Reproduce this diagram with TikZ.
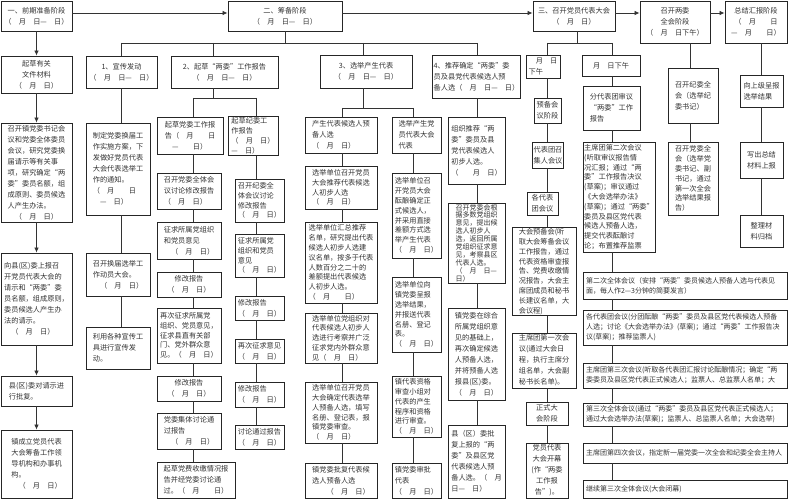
\documentclass[tikz,border=0pt]{standalone}
\usepackage{fontspec}
\setmainfont{Noto Sans CJK SC}
\usetikzlibrary{arrows.meta,calc}
\tikzset{
  box/.style={draw=black!85,line width=0.9pt,inner sep=1pt,align=left,
    font=\fontsize{7.2}{11}\selectfont,text=black!80},
  cbox/.style={box,align=center},
  mid/.style={font=\fontsize{7.2}{9.8}\selectfont},
  dense/.style={font=\fontsize{7}{7.9}\selectfont},
  wide/.style={text width=198pt,font=\fontsize{7}{10}\selectfont},
  conn/.style={draw=black!80,line width=0.8pt},
  arr/.style={conn,-{Latex[length=5pt,width=4.5pt]}},
}
\newcommand\mybox[7][]{\node[box,minimum width={(#5-#3)*1pt},minimum height={(#6-#4)*1pt},#1] (#2) at ({(#3+#5)/2},{(#4+#6)/2}) {#7};}
\newcommand\yd{（\quad 月\quad 日）}
\begin{document}
\begin{tikzpicture}[x=1pt,y=-1pt]
\useasboundingbox (0,0) rectangle (790,500);
\fill[white] (0,0) rectangle (790,500);
% top row
\mybox[cbox]{A}{1}{1}{72}{31}{一、前期准备阶段\\（\quad 月\quad 日—\quad 日）}
\mybox[cbox]{B}{228}{1}{342}{31}{二、筹备阶段\\（\quad 月\quad 日—\quad 日）}
\mybox[cbox]{C}{533}{1}{615}{31}{三、召开党员代表大会\\（\quad 月\quad 日）}
\mybox[cbox]{D}{640}{1}{710}{43}{召开两委\\全会阶段\\（\quad 月\quad 日下午）}
\mybox[cbox]{E}{725}{1}{787}{43}{总结汇报阶段\\（\quad 月\quad\quad 日\\—\quad 月\quad\quad 日）}
% column 1
\mybox[cbox]{a1}{1}{56}{72}{93}{起草有关\\文件材料\\\yd}
\mybox{a2}{1}{123}{72}{222}{召开镇党委书记会\\议和党委全体委员\\会议，研究党委换\\届请示等有关事\\项，研究确定“两\\委”委员名额，组\\成原则、委员候选\\人产生办法。\\\quad\yd}
\mybox{a3}{1}{253}{72}{345}{向县(区)委上报召\\开党员代表大会的\\请示和“两委”委\\员名额，组成原则，\\委员候选人产生办\\法的请示。\\\quad\yd}
\mybox{a4}{1}{376}{72}{406}{县(区)委对请示进\\行批复。}
\mybox{a5}{1}{430}{72}{498}{镇成立党员代表\\大会筹备工作领\\导机构和办事机\\构。\\\quad\yd}
% phase 2 heads
\mybox[cbox]{p1}{86}{56}{157}{88}{1、宣传发动\\（\quad 月\quad 日—\quad 日）}
\mybox[cbox]{p2}{171}{56}{278}{88}{2、起草“两委”工作报告\\（\quad 月\quad 日—\quad 日）}
\mybox[cbox]{p3}{320}{55}{412}{88}{3、选举产生代表\\（\quad 月\quad 日—\quad 日）}
\mybox{p4}{434}{55}{519}{98}{4、推荐确定“两委”委\\员及县党代表候选人预\\备人选（\quad 月\quad 日—\quad 日）}
% column p1
\mybox{b1}{86}{123}{150}{215}{制定党委换届工\\作实施方案，下\\发做好党员代表\\大会代表选举工\\作的通知。\\（\quad 月\quad\quad 日\\\quad —\quad 日）}
\mybox{b2}{86}{253}{150}{296}{召开换届选举工\\作动员大会。\\\quad\yd}
\mybox{b3}{86}{327}{150}{369}{利用各种宣传工\\具进行宣传发\\动。}
% column p2 left
\mybox{c0}{157}{117}{223}{154}{起草党委工作报\\告（\quad 月\quad\quad 日\\\quad —\quad\quad 日）}
\mybox{c1}{157}{173}{221}{209}{召开党委全体会\\议讨论修改报告\\\yd}
\mybox{c2}{157}{222}{221}{259}{征求所属党组织\\和党员意见\\\quad\yd}
\mybox[cbox]{c3}{157}{272}{221}{297}{修改报告\\\yd}
\mybox[mid]{c4}{157}{308}{221}{363}{再次征求所属党\\组织、党员意见，\\征求县直有关部\\门、党外群众意\\见。（\quad 月\quad 日）}
\mybox[cbox]{c5}{157}{376}{221}{401}{修改报告\\\yd}
\mybox{c6}{157}{413}{221}{449}{党委集体讨论通\\过报告\\\quad\yd}
\mybox{c7}{157}{462}{235}{498}{起草党费收缴情况报\\告并经党委讨论通\\过。（\quad 月\quad\quad 日）}
% column p2 right
\mybox[mid]{d0}{228}{117}{278}{155}{起草纪委工\\作报告\\\yd\\—\quad 日）}
\mybox[mid]{d1}{235}{179}{284}{222}{召开纪委全\\体会议讨论\\修改报告\\\yd}
\mybox[mid]{d2}{235}{234}{284}{277}{征求所属党\\组织和党员\\意见\\\yd}
\mybox{d3}{235}{296}{284}{320}{修改报告\\\yd}
\mybox{d4}{235}{339}{284}{363}{再次征求意见\\\yd}
\mybox{d5}{235}{382}{284}{407}{修改报告\\\yd}
\mybox{d6}{235}{425}{284}{449}{讨论通过报告\\\yd}
% column p3 left
\mybox{e1}{305}{117}{377}{153}{产生代表候选人预\\备人选\\\yd}
\mybox[mid]{e2}{305}{166}{377}{209}{选举单位召开党员\\大会推荐代表候选\\人初步人选\\\yd}
\mybox[mid]{e3}{305}{222}{377}{303}{选举单位汇总推荐\\名单，研究提出代表\\候选人初步人选建\\议名单，按多于代表\\人数百分之二十的\\差额提出代表候选\\人初步人选。\\（\quad 月\quad\quad 日）}
\mybox[mid]{e4}{305}{313}{377}{363}{选举单位党组织对\\代表候选人初步人\\选进行考察并广泛\\征求党内外群众意\\见（\quad 月\quad 日）}
\mybox[mid]{e5}{305}{382}{377}{443}{选举单位召开党员\\大会确定代表选举\\人预备人选，填写\\名册、登记表，报\\镇党委审查。\\\yd}
\mybox{e6}{305}{463}{377}{498}{镇党委批复代表候\\选人预备人选\\\quad\quad\yd}
% column p3 right
\mybox{f1}{392}{117}{441}{153}{选举产生党\\员代表大会\\代表}
\mybox[mid]{f2}{392}{173}{441}{258}{选举单位召\\开党员大会\\酝酿确定正\\式候选人，\\并采用直接\\差额方式选\\举产生代表\\\yd}
\mybox[mid]{f3}{392}{277}{441}{352}{选举单位向\\镇党委呈报\\选举结果，\\并报送代表\\名册、登记\\表。\\\yd}
\mybox[mid]{f4}{392}{376}{441}{437}{镇代表资格\\审查小组对\\代表的产生\\程序和资格\\进行审查。\\\yd}
\mybox{f5}{392}{463}{441}{498}{镇党委审批\\代表\\\yd}
% column p4
\mybox{g1}{448}{117}{505}{184}{组织推荐“两\\委”委员及县\\党代表候选人\\初步人选。\\（\quad\quad 月\quad 日）}
\mybox[dense]{g2}{448}{203}{505}{283}{召开党委会根\\据多数党组织\\意见，提出候\\选人初步人\\选，返回所属\\党组织征求意\\见，考察县区\\代表人选。\\（\quad 月\quad 日—\\日）}
\mybox{g3}{448}{308}{505}{400}{镇党委在综合\\所属党组织意\\见的基础上，\\再次确定候选\\人预备人选，\\并将预备人选\\报县(区)委。\\\yd}
\mybox{g4}{448}{425}{505}{498}{县（区）委批\\复上报的“两\\委”及县区党\\代表候选人预\\备人选。（\quad 月\\日—\quad 日）}
% column C left
\mybox{h1}{526}{55}{560}{78}{\quad 月\quad 日\\下午}
\mybox[cbox]{h2}{534}{98}{561}{123}{预备会\\议阶段}
\mybox[cbox]{h3}{534}{142}{562}{168}{代表团召\\集人会议}
\mybox[cbox]{h4}{527}{192}{558}{215}{各代表\\团会议}
\mybox[mid]{h5}{512}{228}{576}{315}{大会预备会(听\\取大会筹备会议\\工作报告，通过\\代表资格审查报\\告、党费收缴情\\况报告，大会主\\席团成员和秘书\\长建议名单，大\\会议程)}
\mybox{h6}{512}{333}{576}{388}{主席团第一次会\\议(通过大会日\\程，执行主席分\\组名单，大会副\\秘书长名单)。}
\mybox[cbox]{h7}{526}{402}{568}{425}{正式大\\会阶段}
\mybox[cbox]{h8}{526}{443}{568}{498}{党员代表\\大会开幕\\(作“两委\\工作报\\告”)。}
% column C right
\mybox[cbox]{i1}{582}{55}{640}{76}{月\quad 日下午}
\mybox{i2}{583}{86}{640}{130}{分代表团审议\\“两委”工作\\报告}
\mybox[mid]{i3}{583}{142}{655}{252}{主席团第二次会议\\(听取审议报告情\\况汇报；通过“两\\委”工作报告决议\\(草案)；审议通过\\《大会选举办法》\\(草案)；通过“两委”\\委员及县区党代表\\候选人预备人选，\\提交代表酝酿讨\\论；布置推荐监票}
\mybox[wide]{w1}{583}{272}{787}{299}{第二次全体会议（安排“两委”委员候选人预备人选与代表见\\面，每人作2—3分钟的简要发言）}
\mybox[wide]{w2}{583}{310}{787}{345}{各代表团会议(分团酝酿“两委”委员及县区党代表候选人预备\\人选；讨论《大会选举办法》(草案)；通过“两委”工作报告决\\议(草案)；推荐监票人)}
\mybox[wide]{w3}{583}{363}{787}{388}{主席团第三次会议(听取各代表团汇报讨论酝酿情况；确定“两\\委委员及县区党代表正式候选人；监票人、总监票人名单；大}
\mybox[wide]{w4}{583}{403}{787}{426}{第三次全体会议(通过“两委”委员及县区党代表正式候选人；\\通过大会选举办法(草案)；监票人、总监票人名单；大会选举)}
\mybox[wide]{w5}{583}{443}{787}{463}{主席团第四次会议，指定新一届党委一次全会和纪委全会主持人}
\mybox[wide]{w6}{583}{480}{787}{498}{继续第三次全体会议(大会闭幕)}
% column D
\mybox{j1}{668}{68}{718}{123}{召开纪委全\\会（选举纪\\委书记）}
\mybox[mid]{j2}{668}{142}{718}{215}{召开党委全\\会（选举党\\委书记、副\\书记，通过\\第一次全会\\选举结果报\\告）}
% column E
\mybox{k1}{740}{75}{783}{107}{向上级呈报\\选举结果}
\mybox[cbox]{k2}{740}{142}{783}{178}{写出总结\\材料上报}
\mybox[cbox]{k3}{740}{215}{783}{247}{整理材\\料归档}
% helper coordinates
\coordinate (ty) at (0,13);
\coordinate (y43) at (0,43);
\coordinate (y98) at (0,98);
\coordinate (y108) at (0,108);
\coordinate (x1) at (121,0);
\coordinate (x2) at (213,0);
\coordinate (x2L) at (193,0);
\coordinate (x2R) at (256,0);
\coordinate (x3) at (363,0);
\coordinate (x3L) at (342,0);
\coordinate (x3R) at (413,0);
\coordinate (x4) at (477,0);
\coordinate (xB) at (285,0);
\coordinate (xC) at (577,0);
\coordinate (x5L) at (547,0);
\coordinate (x5R) at (612,0);
\coordinate (xD) at (690,0);
\coordinate (xE) at (761,0);
% top arrows
\draw[arr] (A.east|-ty) -- (B.west|-ty);
\draw[arr] (B.east|-ty) -- (C.west|-ty);
\draw[arr] (C.east|-ty) -- (D.west|-ty);
\draw[arr] (D.east|-ty) -- (E.west|-ty);
% column 1 arrows
\draw[arr] (A.south) -- (a1.north);
\draw[arr] (a1.south) -- (a2.north);
\draw[arr] (a2.south) -- (a3.north);
\draw[arr] (a3.south) -- (a4.north);
\draw[arr] (a4.south) -- (a5.north);
% phase 2 bus
\draw[conn] (B.south-|xB) -- (y43-|xB);
\draw[conn] (y43-|x1) -- (y43-|x4);
\draw[conn] (y43-|x1) -- (p1.north-|x1);
\draw[conn] (y43-|x2) -- (p2.north-|x2);
\draw[conn] (y43-|x3) -- (p3.north-|x3);
\draw[conn] (y43-|x4) -- (p4.north-|x4);
% p1 column
\draw[conn] (p1.south-|x1) -- (b1.north-|x1);
\draw[conn] (b1.south-|x1) -- (b2.north-|x1);
\draw[conn] (b2.south-|x1) -- (b3.north-|x1);
% p2 columns
\draw[conn] (p2.south-|x2) -- (y98-|x2);
\draw[conn] (y98-|x2L) -- (y98-|x2R);
\draw[conn] (y98-|x2L) -- (c0.north-|x2L);
\draw[conn] (y98-|x2R) -- (d0.north-|x2R);
\foreach \u/\v in {c0/c1,c1/c2,c2/c3,c3/c4,c4/c5,c5/c6,c6/c7}
  \draw[conn] (\u.south-|x2L) -- (\v.north-|x2L);
\foreach \u/\v in {d0/d1,d1/d2,d2/d3,d3/d4,d4/d5,d5/d6}
  \draw[conn] (\u.south-|x2R) -- (\v.north-|x2R);
% p3 columns
\draw[conn] (p3.south-|x3) -- (y108-|x3);
\draw[conn] (y108-|x3L) -- (y108-|x3R);
\draw[conn] (y108-|x3L) -- (e1.north-|x3L);
\draw[conn] (y108-|x3R) -- (f1.north-|x3R);
\foreach \u/\v in {e1/e2,e2/e3,e3/e4,e4/e5,e5/e6}
  \draw[conn] (\u.south-|x3L) -- (\v.north-|x3L);
\foreach \u/\v in {f1/f2,f2/f3,f3/f4,f4/f5}
  \draw[conn] (\u.south-|x3R) -- (\v.north-|x3R);
% p4 column
\foreach \u/\v in {p4/g1,g1/g2,g2/g3,g3/g4}
  \draw[conn] (\u.south-|x4) -- (\v.north-|x4);
% phase 3
\draw[conn] (C.south-|xC) -- (y43-|xC);
\draw[conn] (y43-|x5L) -- (y43-|x5R);
\draw[conn] (y43-|x5L) -- (h1.north-|x5L);
\draw[conn] (y43-|x5R) -- (i1.north-|x5R);
\foreach \u/\v in {h1/h2,h2/h3,h3/h4,h4/h5,h5/h6,h6/h7,h7/h8}
  \draw[conn] (\u.south-|x5L) -- (\v.north-|x5L);
\foreach \u/\v in {i1/i2,i2/i3,i3/w1,w1/w2,w2/w3,w3/w4,w4/w5,w5/w6}
  \draw[conn] (\u.south-|x5R) -- (\v.north-|x5R);
% phase 4 and 5
\foreach \u/\v in {D/j1,j1/j2}
  \draw[conn] (\u.south-|xD) -- (\v.north-|xD);
\foreach \u/\v in {E/k1,k1/k2,k2/k3}
  \draw[conn] (\u.south-|xE) -- (\v.north-|xE);
\end{tikzpicture}
\end{document}
